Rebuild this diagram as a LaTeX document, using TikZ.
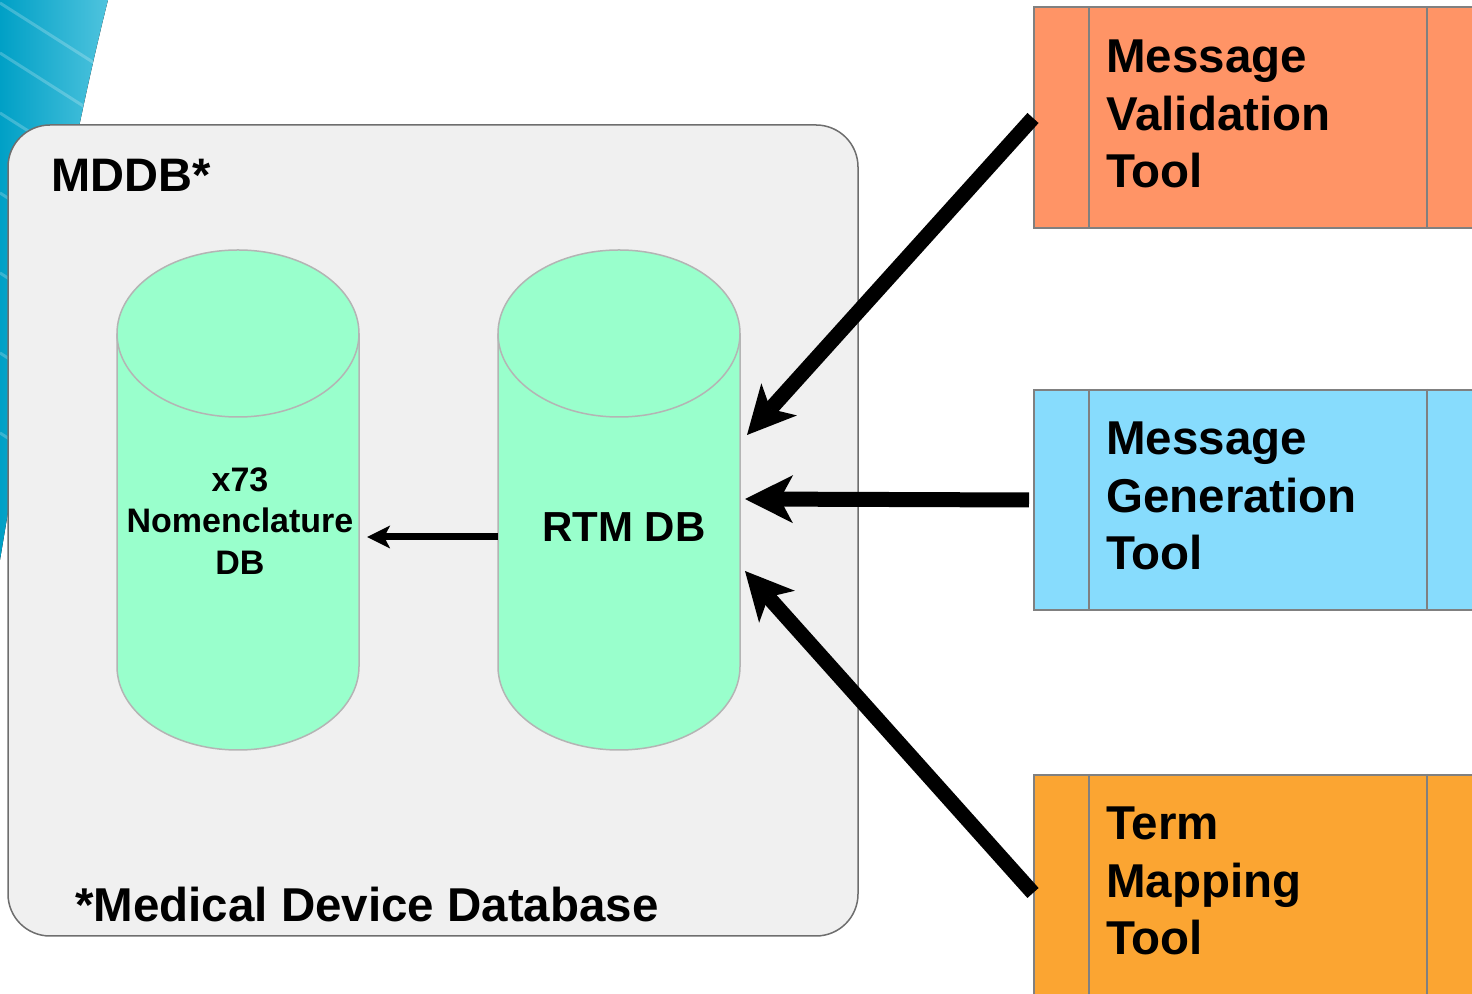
\documentclass[tikz,border=0pt]{standalone}
\usepackage{fontspec}
\setmainfont{Liberation Sans}
\usetikzlibrary{arrows.meta,calc}
\definecolor{bandDark}{RGB}{0,160,198}
\definecolor{bandLight}{RGB}{80,196,222}
\definecolor{boxfill}{RGB}{240,240,240}
\definecolor{boxline}{RGB}{110,110,110}
\definecolor{cylgreen}{RGB}{153,255,204}
\definecolor{cylline}{RGB}{180,180,180}
\definecolor{toolline}{RGB}{128,128,128}
\definecolor{mvtcol}{RGB}{255,148,102}
\definecolor{mgtcol}{RGB}{135,220,253}
\definecolor{tmtcol}{RGB}{251,165,50}
\begin{document}
\begin{tikzpicture}[x=1pt,y=1pt,
  toolbox/.style={draw=toolline, line width=2pt, rectangle, minimum width=470pt, inner sep=0pt, anchor=west},
  tooltext/.style={anchor=north west, align=left, inner sep=0pt, font=\fontsize{47.5}{57.5}\selectfont\bfseries},
  divider/.style={draw=toolline, line width=2pt},
  bigarrow/.style={line width=15pt, -{Stealth[length=48pt,width=48pt,inset=13pt,line width=0pt]}},
  smallarrow/.style={line width=7pt, -{Stealth[length=23pt,width=23pt,inset=6pt,line width=0pt]}},
  cylpaint/.style={fill=cylgreen, draw=cylline, line width=1.5pt},
  cylarea/.style={inner sep=0pt, minimum width=242pt, minimum height=333pt},
]
\useasboundingbox (0,0) rectangle (1472,993);
\clip (0,0) rectangle (1472,993);
% decorative band
\begin{scope}
\clip (0,993) -- (108,993) .. controls (70,843) and (30,613) .. (0,433) -- cycle;
\fill[left color=bandDark, right color=bandLight] (0,420) rectangle (110,993);
\foreach \y in {990,940,880,800,720,640,560}{
  \draw[white, opacity=0.22, line width=3pt] (0,\y) -- (110,\y-70);
}
\end{scope}
% MDDB container
\node[draw=boxline, fill=boxfill, line width=1.5pt, rounded corners=42pt, inner sep=0pt,
      minimum width=850pt, minimum height=811pt] (mddb) at (433,462.5) {};
\node[anchor=base west, inner sep=0pt, font=\fontsize{47}{56}\selectfont\bfseries] (mddbtitle) at (51,801) {MDDB*};
\node[anchor=base west, inner sep=0pt, font=\fontsize{47.5}{56}\selectfont\bfseries] (mddbnote) at (75,71) {*Medical Device Database};
% cylinders
\foreach \cx in {238,619}{
  \path[cylpaint] (\cx-121,659.5) -- (\cx-121,326.5) arc (180:360:121 and 83.5) -- (\cx+121,659.5);
  \fill[cylgreen] (\cx-120,659.5) rectangle (\cx+120,330);
  \path[cylpaint] (\cx,659.5) ellipse (121 and 83.5);
}
\node[cylarea] (nomcyl) at (238,493) {};
\node[cylarea] (rtmcyl) at (619,493) {};
\node[align=center, inner sep=0pt, font=\fontsize{34}{41.5}\selectfont\bfseries] (nomtext) at (240,472) {x73\\Nomenclature\\DB};
\node[inner sep=0pt, font=\fontsize{42}{50}\selectfont\bfseries] (rtmtext) at (624,466) {RTM DB};
\draw[smallarrow] ([yshift=-37pt]rtmcyl.west) -- ([xshift=8pt,yshift=-37pt]nomcyl.east);
% tool boxes
\node[toolbox, fill=mvtcol, minimum height=221pt] (mvt) at (1033,875) {};
\node[toolbox, fill=mgtcol, minimum height=220pt] (mgt) at (1033,493) {};
\node[toolbox, fill=tmtcol, minimum height=236pt] (tmt) at (1033,100) {};
\foreach \b in {mvt,mgt,tmt}{
  \draw[divider] ([xshift=56pt]\b.north west) -- ([xshift=56pt]\b.south west);
  \draw[divider] ([xshift=394pt]\b.north west) -- ([xshift=394pt]\b.south west);
}
\node[tooltext] (mvttext) at (1106,953) {Message\\Validation\\Tool};
\node[tooltext] (mgttext) at (1106,571) {Message\\Generation\\Tool};
\node[tooltext] (tmttext) at (1106,186) {Term\\Mapping\\Tool};
% connectors
\coordinate (tipA) at (747,558);
\coordinate (tipB) at (745,494);
\coordinate (tipC) at (745,422);
\draw[bigarrow] (mvt.west) -- (tipA);
\draw[bigarrow] ([xshift=-4pt]mgt.west) -- (tipB);
\draw[bigarrow] (tmt.west) -- (tipC);
\end{tikzpicture}
\end{document}
